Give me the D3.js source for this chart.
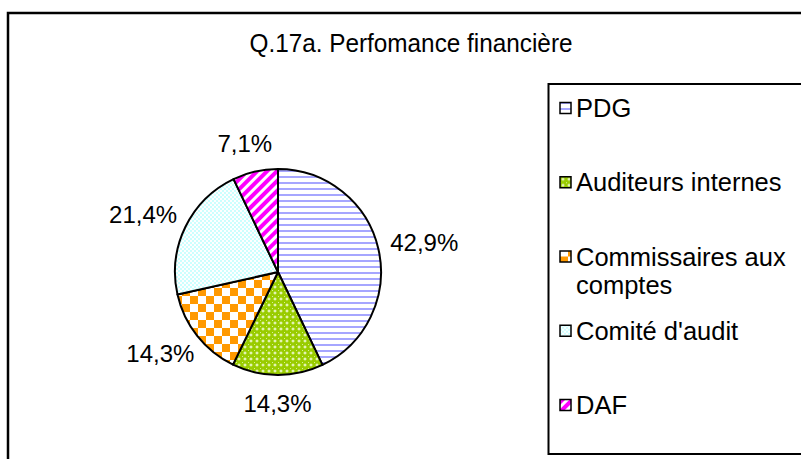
<!DOCTYPE html>
<html>
<head>
<meta charset="utf-8">
<script src="https://cdn.jsdelivr.net/npm/d3@7"></script>
<style>
  body { margin: 0; background: #fff; }
  svg { display: block; font-family: "Liberation Sans", Arial, sans-serif; }
</style>
</head>
<body>
<svg id="chart" width="801" height="459"></svg>
<script>
const title = "Q.17a. Perfomance financière";
const names = ["PDG", "Auditeurs internes", "Commissaires aux comptes", "Comité d'audit", "DAF"];
const legendLines = [["PDG"], ["Auditeurs internes"], ["Commissaires aux", "comptes"], ["Comité d'audit"], ["DAF"]];
const values = [42.9, 14.3, 14.3, 21.4, 7.1];
const valueLabels = ["42,9%", "14,3%", "14,3%", "21,4%", "7,1%"];
const patternIds = ["pStripes", "pLattice", "pChecker", "pDots", "pDiag"];

const width = 801, height = 459;
const cx = 278, cy = 272, r = 103;

const svg = d3.select("#chart");
const defs = svg.append("defs");

// slice fills
let p = defs.append("pattern").attr("id", "pStripes").attr("patternUnits", "userSpaceOnUse")
  .attr("width", 6).attr("height", 6);
p.append("rect").attr("width", 6).attr("height", 6).attr("fill", "#fff");
p.append("rect").attr("y", 0).attr("width", 6).attr("height", 2).attr("fill", "#a6a6ff");

p = defs.append("pattern").attr("id", "pLattice").attr("patternUnits", "userSpaceOnUse")
  .attr("width", 6).attr("height", 6);
p.append("rect").attr("width", 6).attr("height", 6).attr("fill", "#99cc00");
p.append("path").attr("d", "M3,1.2L4.8,3L3,4.8L1.2,3Z").attr("fill", "#e6f5b8");
p.append("rect").attr("x", 0).attr("y", 0).attr("width", 1).attr("height", 1).attr("fill", "#d8ee99");

p = defs.append("pattern").attr("id", "pChecker").attr("patternUnits", "userSpaceOnUse")
  .attr("width", 16).attr("height", 16);
p.append("rect").attr("width", 16).attr("height", 16).attr("fill", "#fff");
p.append("rect").attr("width", 8).attr("height", 8).attr("fill", "#ff9900");
p.append("rect").attr("x", 8).attr("y", 8).attr("width", 8).attr("height", 8).attr("fill", "#ff9900");

p = defs.append("pattern").attr("id", "pDots").attr("patternUnits", "userSpaceOnUse")
  .attr("width", 4).attr("height", 4);
p.append("rect").attr("width", 4).attr("height", 4).attr("fill", "#ccffff");
p.append("rect").attr("x", 0).attr("y", 0).attr("width", 2).attr("height", 2).attr("fill", "#fff");
p.append("rect").attr("x", 2).attr("y", 2).attr("width", 2).attr("height", 2).attr("fill", "#fff");

p = defs.append("pattern").attr("id", "pDiag").attr("patternUnits", "userSpaceOnUse")
  .attr("width", 7).attr("height", 7).attr("patternTransform", "rotate(45)");
p.append("rect").attr("width", 7).attr("height", 7).attr("fill", "#ff00ff");
p.append("rect").attr("x", 0).attr("width", 3).attr("height", 7).attr("fill", "#fff");

svg.append("rect").attr("width", width).attr("height", height).attr("fill", "#fff");

// chart area border (runs off right / bottom)
svg.append("rect")
  .attr("x", 8).attr("y", 13).attr("width", 820).attr("height", 470)
  .attr("fill", "none").attr("stroke", "#000").attr("stroke-width", 2.5);

svg.append("text")
  .attr("x", 411).attr("y", 52)
  .attr("text-anchor", "middle")
  .attr("font-size", 26)
  .attr("textLength", 323).attr("lengthAdjust", "spacingAndGlyphs")
  .text(title);

// pie
const data = names.map((n, i) => ({name: n, value: values[i], label: valueLabels[i], pat: patternIds[i]}));
const pie = d3.pie().sort(null).value(d => d.value);
const arc = d3.arc().innerRadius(0).outerRadius(r);
const arcs = pie(data);

const g = svg.append("g").attr("transform", `translate(${cx},${cy})`);
g.selectAll("path.slice")
  .data(arcs)
  .join("path")
  .attr("class", "slice")
  .attr("d", arc)
  .attr("fill", d => `url(#${d.data.pat})`)
  .attr("stroke", "#000")
  .attr("stroke-width", 2)
  .attr("stroke-linejoin", "round");

// labels outside each slice, on an ellipse round the pie
const labelRx = 150, labelRy = 132;
g.selectAll("text.lab")
  .data(arcs)
  .join("text")
  .attr("class", "lab")
  .attr("font-size", 24)
  .attr("text-anchor", "middle")
  .attr("dominant-baseline", "central")
  .attr("x", d => Math.sin((d.startAngle + d.endAngle) / 2) * labelRx)
  .attr("y", d => -Math.cos((d.startAngle + d.endAngle) / 2) * labelRy)
  .text(d => d.data.label);

// legend
svg.append("rect")
  .attr("x", 548.5).attr("y", 84).attr("width", 300).attr("height", 370)
  .attr("fill", "none").attr("stroke", "#000").attr("stroke-width", 2);

const ly = d3.scalePoint().domain(names).range([108, 405]);
const lg = svg.append("g").selectAll("g")
  .data(data)
  .join("g")
  .attr("transform", d => `translate(560,${ly(d.name)})`);

lg.append("rect")
  .attr("x", 0).attr("y", -5.5).attr("width", 11).attr("height", 11)
  .attr("fill", d => `url(#${d.pat})`)
  .attr("stroke", "#000").attr("stroke-width", 1.5);

lg.append("text")
  .attr("font-size", 25.5)
  .attr("dominant-baseline", "central")
  .selectAll("tspan")
  .data((d, i) => legendLines[i])
  .join("tspan")
  .attr("x", 16)
  .attr("y", (t, j) => j * 28)
  .text(t => t);
</script>
</body>
</html>
